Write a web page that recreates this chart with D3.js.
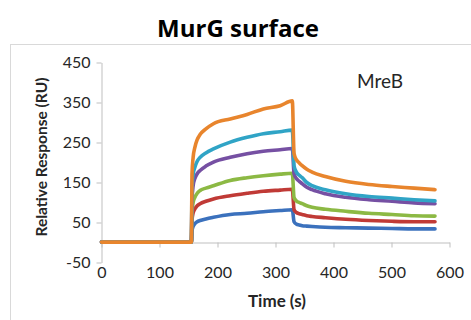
<!DOCTYPE html>
<html>
<head>
<meta charset="utf-8">
<script src="https://cdn.jsdelivr.net/npm/d3@7"></script>
<style>
  html, body { margin: 0; padding: 0; background: #fff; }
  svg { display: block; }
</style>
</head>
<body>
<svg id="chart" width="471" height="320"></svg>
<script>
// Sensorgram time points (s), shared by every injection curve
const time = [0, 155, 156, 158, 161, 165, 170, 180, 193, 222, 251, 279, 308, 329, 332, 336, 341, 346, 354, 363, 386, 421, 461, 501, 539, 575];

// Relative response (RU) for each analyte concentration
const seriesBlue   = [1, 1, 28, 40, 47, 52, 55, 59, 63, 70, 73, 77, 80, 82, 52, 46, 44, 42, 41, 40, 38, 37, 36, 35, 34, 34];
const seriesRed    = [1, 1, 55, 74, 84, 92, 97, 103, 109, 117, 123, 128, 131, 133, 82, 75, 72, 70, 67, 65, 62, 58, 55, 53, 52, 52];
const seriesGreen  = [1, 1, 75, 100, 113, 123, 130, 136, 142, 155, 162, 167, 171, 173, 112, 104, 100, 97, 92, 88, 83, 78, 73, 70, 67, 66];
const seriesPurple = [1, 1, 105, 142, 160, 172, 180, 191, 201, 213, 222, 228, 232, 235, 172, 160, 153, 147, 138, 132, 122, 113, 107, 103, 99, 97];
const seriesCyan   = [1, 1, 130, 170, 188, 203, 213, 224, 234, 251, 263, 272, 277, 281, 192, 176, 168, 162, 150, 142, 132, 122, 115, 111, 107, 104];
const seriesOrange = [1, 1, 170, 213, 238, 257, 270, 284, 297, 309, 320, 334, 342, 354, 222, 207, 199, 192, 183, 176, 165, 153, 145, 140, 136, 132];

const seriesList   = [seriesBlue, seriesRed, seriesGreen, seriesPurple, seriesCyan, seriesOrange];
const seriesColors = ["#3b71bd", "#c03a36", "#8cb944", "#7650a3", "#30a4c6", "#e8852d"];

const xTicks = [0, 100, 200, 300, 400, 500, 600];
const yTicks = [-50, 50, 150, 250, 350, 450];

const titleText = "MurG surface";
const xTitle = "Time (s)";
const yTitle = "Relative Response (RU)";
const labelText = "MreB";

const svg = d3.select("#chart");
const font = "Lato, 'Open Sans', sans-serif";
const axisColor = "#bfbfbf";

// Outer chart frame
svg.append("rect")
  .attr("x", 10.5).attr("y", 44.5)
  .attr("width", 480).attr("height", 300)
  .attr("fill", "none").attr("stroke", "#d9d9d9").attr("stroke-width", 1);

const x = d3.scaleLinear().domain([0, 600]).range([101.5, 449.5]);
const y = d3.scaleLinear().domain([-50, 450]).range([262.5, 62.5]);
const plainFormat = d => String(d);

// Y axis
const yAxis = svg.append("g")
  .attr("transform", `translate(${x(0)},0)`)
  .call(d3.axisLeft(y).tickValues(yTicks).tickFormat(plainFormat)
    .tickSize(5).tickSizeOuter(0).tickPadding(6));
yAxis.select(".domain").attr("stroke", axisColor);
yAxis.selectAll(".tick line").attr("stroke", axisColor);
yAxis.selectAll(".tick text")
  .attr("fill", "#262626").style("font-family", font).style("font-size", "16px");

// X axis, crossing at zero with labels below the plot
const xAxis = svg.append("g")
  .attr("transform", `translate(0,${y(0)})`)
  .call(d3.axisBottom(x).tickValues(xTicks).tickFormat(plainFormat)
    .tickSize(5).tickSizeOuter(0));
xAxis.select(".domain").attr("stroke", axisColor);
xAxis.selectAll(".tick line").attr("stroke", axisColor);
xAxis.selectAll(".tick text")
  .attr("fill", "#262626").style("font-family", font).style("font-size", "16px")
  .attr("dy", null)
  .attr("y", y(-50) - y(0) + 15);

// Sensorgram curves
const line = d3.line()
  .x((d, i) => x(time[i]))
  .y(d => y(d))
  .curve(d3.curveMonotoneX);

svg.append("g").selectAll("path")
  .data(seriesList)
  .join("path")
  .attr("d", d => line(d))
  .attr("fill", "none")
  .attr("stroke", (d, i) => seriesColors[i])
  .attr("stroke-width", 3.6)
  .attr("stroke-linejoin", "round")
  .attr("stroke-linecap", "round");

// Titles
svg.append("text")
  .attr("x", 238).attr("y", 36.5)
  .attr("text-anchor", "middle")
  .style("font-family", "'Open Sans', Lato, sans-serif").style("font-weight", "bold").style("font-size", "24px")
  .attr("fill", "#000")
  .text(titleText);

svg.append("text")
  .attr("x", 277).attr("y", 307)
  .attr("text-anchor", "middle")
  .style("font-family", font).style("font-weight", "bold").style("font-size", "17px")
  .attr("fill", "#262626")
  .text(xTitle);

svg.append("text")
  .attr("transform", `translate(47,157) rotate(-90)`)
  .attr("text-anchor", "middle")
  .style("font-family", font).style("font-weight", "bold").style("font-size", "15.5px")
  .attr("fill", "#262626")
  .text(yTitle);

svg.append("text")
  .attr("x", 380).attr("y", 88)
  .attr("text-anchor", "middle")
  .style("font-family", font).style("font-size", "19px")
  .attr("fill", "#262626")
  .text(labelText);
</script>
</body>
</html>
